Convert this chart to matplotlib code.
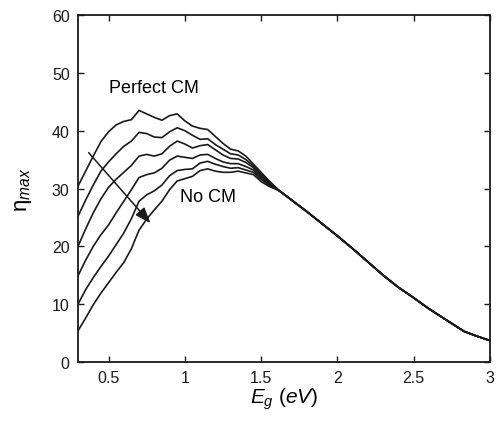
import numpy as np
import matplotlib
matplotlib.use("Agg")
import matplotlib.pyplot as plt

plt.rcParams['font.family'] = ['Liberation Sans', 'DejaVu Sans']
plt.rcParams['mathtext.fontset'] = 'custom'
plt.rcParams['mathtext.rm'] = 'Liberation Sans'
plt.rcParams['mathtext.it'] = 'Liberation Sans:italic'

# band gap grid for the wavy part (eV)
eg_head = [0.30, 0.35, 0.40, 0.45, 0.50, 0.55, 0.60, 0.65, 0.70, 0.75, 0.80, 0.85, 0.90,
           0.95, 1.00, 1.05, 1.10, 1.15, 1.20, 1.25, 1.30, 1.35, 1.40, 1.45, 1.50, 1.55]

# max efficiency, from perfect carrier multiplication down to none
eta_1 = [30.4, 33.0, 35.6, 38.1, 39.8, 41.0, 41.6, 41.9, 43.5, 42.9, 42.3, 41.8, 42.6,
         42.9, 41.7, 40.8, 40.4, 40.2, 39.0, 37.8, 36.8, 36.5, 35.6, 34.2, 32.8, 31.4]
eta_2 = [25.2, 28.0, 30.6, 33.0, 34.6, 36.0, 37.3, 38.2, 39.7, 39.5, 38.9, 38.8, 39.8,
         40.5, 40.0, 39.2, 38.5, 38.6, 37.6, 36.8, 36.0, 35.8, 35.0, 33.9, 32.5, 31.2]
eta_3 = [20.0, 23.0, 25.8, 28.2, 30.2, 31.6, 32.8, 34.0, 35.6, 35.9, 35.6, 36.0, 37.3,
         38.2, 37.7, 37.0, 37.4, 37.6, 36.7, 35.8, 35.2, 35.1, 34.5, 33.6, 32.2, 31.0]
eta_4 = [14.9, 17.6, 20.0, 22.0, 23.7, 25.8, 27.8, 29.8, 31.9, 32.4, 32.7, 33.5, 34.9,
         35.6, 35.4, 35.2, 35.8, 35.9, 35.2, 34.6, 34.3, 34.3, 33.8, 33.2, 31.9, 30.8]
eta_5 = [10.0, 12.5, 14.6, 16.5, 18.3, 20.3, 22.3, 24.8, 27.8, 28.9, 29.6, 30.6, 32.2,
         33.1, 33.3, 33.4, 34.4, 34.7, 34.2, 33.8, 33.5, 33.6, 33.2, 32.8, 31.6, 30.6]
eta_6 = [5.4, 7.6, 9.9, 11.9, 13.7, 15.5, 17.2, 19.6, 22.8, 24.7, 26.3, 27.8, 29.8,
         31.3, 31.7, 32.1, 33.1, 33.4, 33.0, 32.8, 32.8, 33.0, 32.7, 32.4, 31.2, 30.4]

# all curves coincide above ~1.6 eV
eg_tail = [1.62, 1.70, 1.80, 1.90, 2.00, 2.10, 2.20, 2.30, 2.40, 2.50, 2.60, 2.70,
           2.80, 2.83, 2.90, 3.00]
eta_tail = [29.6, 28.0, 26.0, 23.9, 21.8, 19.6, 17.3, 15.0, 12.9, 11.1, 9.2, 7.5,
            5.8, 5.3, 4.6, 3.7]

curves = [eta_1, eta_2, eta_3, eta_4, eta_5, eta_6]

fig = plt.figure(figsize=(5.01, 4.27), dpi=100)
ax = fig.add_axes([0.1557, 0.1499, 0.8223, 0.8126])

for eta in curves:
    ax.plot(eg_head + eg_tail, eta + eta_tail, color='#1a1a1a', lw=1.2)

ax.annotate('', xy=(0.775, 24.0), xytext=(0.37, 36.2),
            arrowprops=dict(arrowstyle='-|>,head_length=0.8,head_width=0.3',
                            color='#1a1a1a', lw=1.1, mutation_scale=12,
                            shrinkA=0, shrinkB=0))
ax.text(0.80, 47.4, 'Perfect CM', ha='center', va='center', fontsize=13)
ax.text(0.97, 28.6, 'No CM', ha='left', va='center', fontsize=13)

ax.set_xlim(0.3, 3)
ax.set_ylim(0, 60)
ax.set_xticks([0.5, 1, 1.5, 2, 2.5, 3])
ax.set_xticklabels(['0.5', '1', '1.5', '2', '2.5', '3'])
ax.set_yticks(range(0, 61, 10))
ax.tick_params(direction='in', top=True, right=True, length=4, width=1,
               labelsize=11.5, colors='#1a1a1a', pad=6)
for s in ax.spines.values():
    s.set_linewidth(1.3)
    s.set_color('#1a1a1a')

ax.set_xlabel(r'$E_g$ $\mathit{(eV)}$', fontsize=15, labelpad=0)
ax.set_ylabel(r'$\mathrm{\eta}_{max}$', fontsize=16, labelpad=13)

fig.savefig('out.png', dpi=100)
